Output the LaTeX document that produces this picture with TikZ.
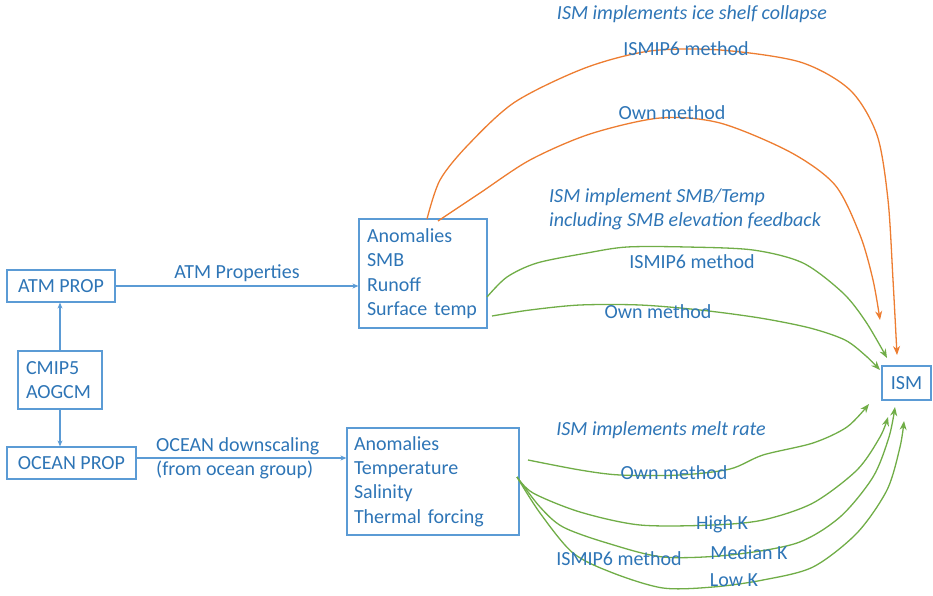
\documentclass[tikz,border=0pt]{standalone}
\usepackage{fontspec}
\setmainfont{Carlito}
\usetikzlibrary{arrows.meta}
\definecolor{txtblue}{RGB}{46,117,182}
\definecolor{boxblue}{RGB}{91,155,213}
\definecolor{orng}{RGB}{237,125,49}
\definecolor{grn}{RGB}{112,173,71}
\begin{document}
\begin{tikzpicture}[x=1pt,y=-1pt,
  font=\fontsize{20}{24.4}\selectfont,
  every node/.style={text=txtblue},
  box/.style={draw=boxblue, line width=1.2pt, inner ysep=0pt},
  lbl/.style={inner sep=0pt},
  itl/.style={lbl, font=\fontsize{20}{24.4}\selectfont\itshape},
  feed/.style={boxblue, line width=1.1pt, -{Stealth[length=6pt,width=5pt]}},
  orcurve/.style={orng, line width=1.3pt, -{Stealth[length=9pt,width=7pt]}},
  grcurve/.style={grn, line width=1.3pt, -{Stealth[length=9pt,width=7pt]}},
]
\useasboundingbox (0,0) rectangle (933,596);

% source and intermediate boxes
\node[box, minimum width=108pt, minimum height=32pt] (atmprop) at (61,286) {ATM PROP};
\node[box, text width=68pt, inner xsep=8pt, minimum height=58pt, align=left] (cmip) at (60,380) {CMIP5\\AOGCM};
\node[box, minimum width=129pt, minimum height=32pt] (oceanprop) at (71.5,463) {OCEAN PROP};
\node[box, text width=112pt, inner xsep=8pt, minimum height=109pt, align=left] (atmbox) at (423,273.5)
  {Anomalies\\SMB\\Runoff\\Surface temp};
\node[box, text width=158pt, inner xsep=7pt, minimum height=107pt, align=left] (ocbox) at (433,481.5)
  {Anomalies\\Temperature\\Salinity\\Thermal forcing};
\node[box, minimum width=49pt, minimum height=34pt] (ism) at (906.5,383) {ISM};

% straight feeds
\draw[feed] (cmip.north) -- (cmip.north |- atmprop.south);
\draw[feed] (cmip.south) -- (cmip.south |- oceanprop.north);
\draw[feed] (atmprop.east) -- (atmprop.east -| atmbox.west)
  node[lbl, midway, above=4pt] {ATM Properties};
\path (oceanprop.east) ++(0,-5) coordinate (ocfeed);
\draw[feed] (ocfeed) -- (ocfeed -| ocbox.west);
\node[lbl, anchor=west, align=left] (oclbl) at (156,458) {OCEAN downscaling\\(from ocean group)};

% end points next to ISM
\coordinate (oA) at (897,355);
\coordinate (oB) at (880,320);
\coordinate (gA) at (887,358);
\coordinate (gB) at (880,370);
\coordinate (gC) at (869,404);
\coordinate (gH) at (888,417);
\coordinate (gM) at (895,407);
\coordinate (gL) at (904,421);
% start points at the boxes
\coordinate (sA) at (427,219);
\coordinate (sB) at (438,221);
\coordinate (sC) at (487,297);
\coordinate (sD) at (492,316);
\coordinate (sE) at (528,460);
\coordinate (sF) at (517,477);

% ice shelf collapse (orange)
\node[itl] (tcol) at (692,14) {ISM implements ice shelf collapse};
\draw[orcurve] plot[smooth] coordinates {(sA) (440,180) (468,145) (515,102) (585,68)
  (650,51) (720,50) (800,62) (850,90) (877,135) (888,200) (893,280) (oA)};
\node[lbl] (t1) at (686,49) {ISMIP6 method};
\draw[orcurve] plot[smooth] coordinates {(sB) (480,193) (530,160) (590,134) (660,118)
  (720,123) (790,152) (835,185) (860,235) (873,280) (oB)};
\node[lbl] (t2) at (672,113) {Own method};

% SMB / temperature (green)
\node[itl, anchor=west, align=left] (tsmb) at (549,209) {ISM implement SMB/Temp\\including SMB elevation feedback};
\draw[grcurve] plot[smooth] coordinates {(sC) (507,277) (537,263) (587,253) (627,247) (687,247)
  (753,250) (803,263) (843,293) (866,322) (gA)};
\node[lbl] (t3) at (692,262) {ISMIP6 method};
\draw[grcurve] plot[smooth] coordinates {(sD) (530,310) (580,305) (640,305) (700,310) (760,318)
  (810,328) (845,340) (866,356) (gB)};
\node[lbl] (t4) at (658,312) {Own method};

% melt rate (green)
\node[itl] (tmelt) at (661,430) {ISM implements melt rate};
\draw[grcurve] plot[smooth] coordinates {(sE) (580,470) (620,475) (680,475) (730,469) (763,455)
  (813,443) (847,427) (gC)};
\node[lbl] (t5) at (674,473) {Own method};
\draw[grcurve] plot[smooth] coordinates {(sF) (533,493) (580,512) (640,525) (713,525) (763,520)
  (813,503) (857,470) (880,437) (gH)};
\node[lbl] (t6) at (722,524) {High K};
\draw[grcurve] plot[smooth] coordinates {(sF) (540,507) (563,527) (607,543) (663,557) (730,555)
  (797,543) (840,517) (873,477) (889,437) (gM)};
\node[lbl] (t7) at (749,553) {Median K};
\draw[grcurve] plot[smooth] coordinates {(sF) (540,513) (573,553) (613,573) (663,588) (713,587)
  (763,580) (813,567) (857,533) (887,490) (900,447) (gL)};
\node[lbl] (t8) at (734,580) {Low K};
\node[lbl] (t9) at (619,559) {ISMIP6 method};
\end{tikzpicture}
\end{document}
